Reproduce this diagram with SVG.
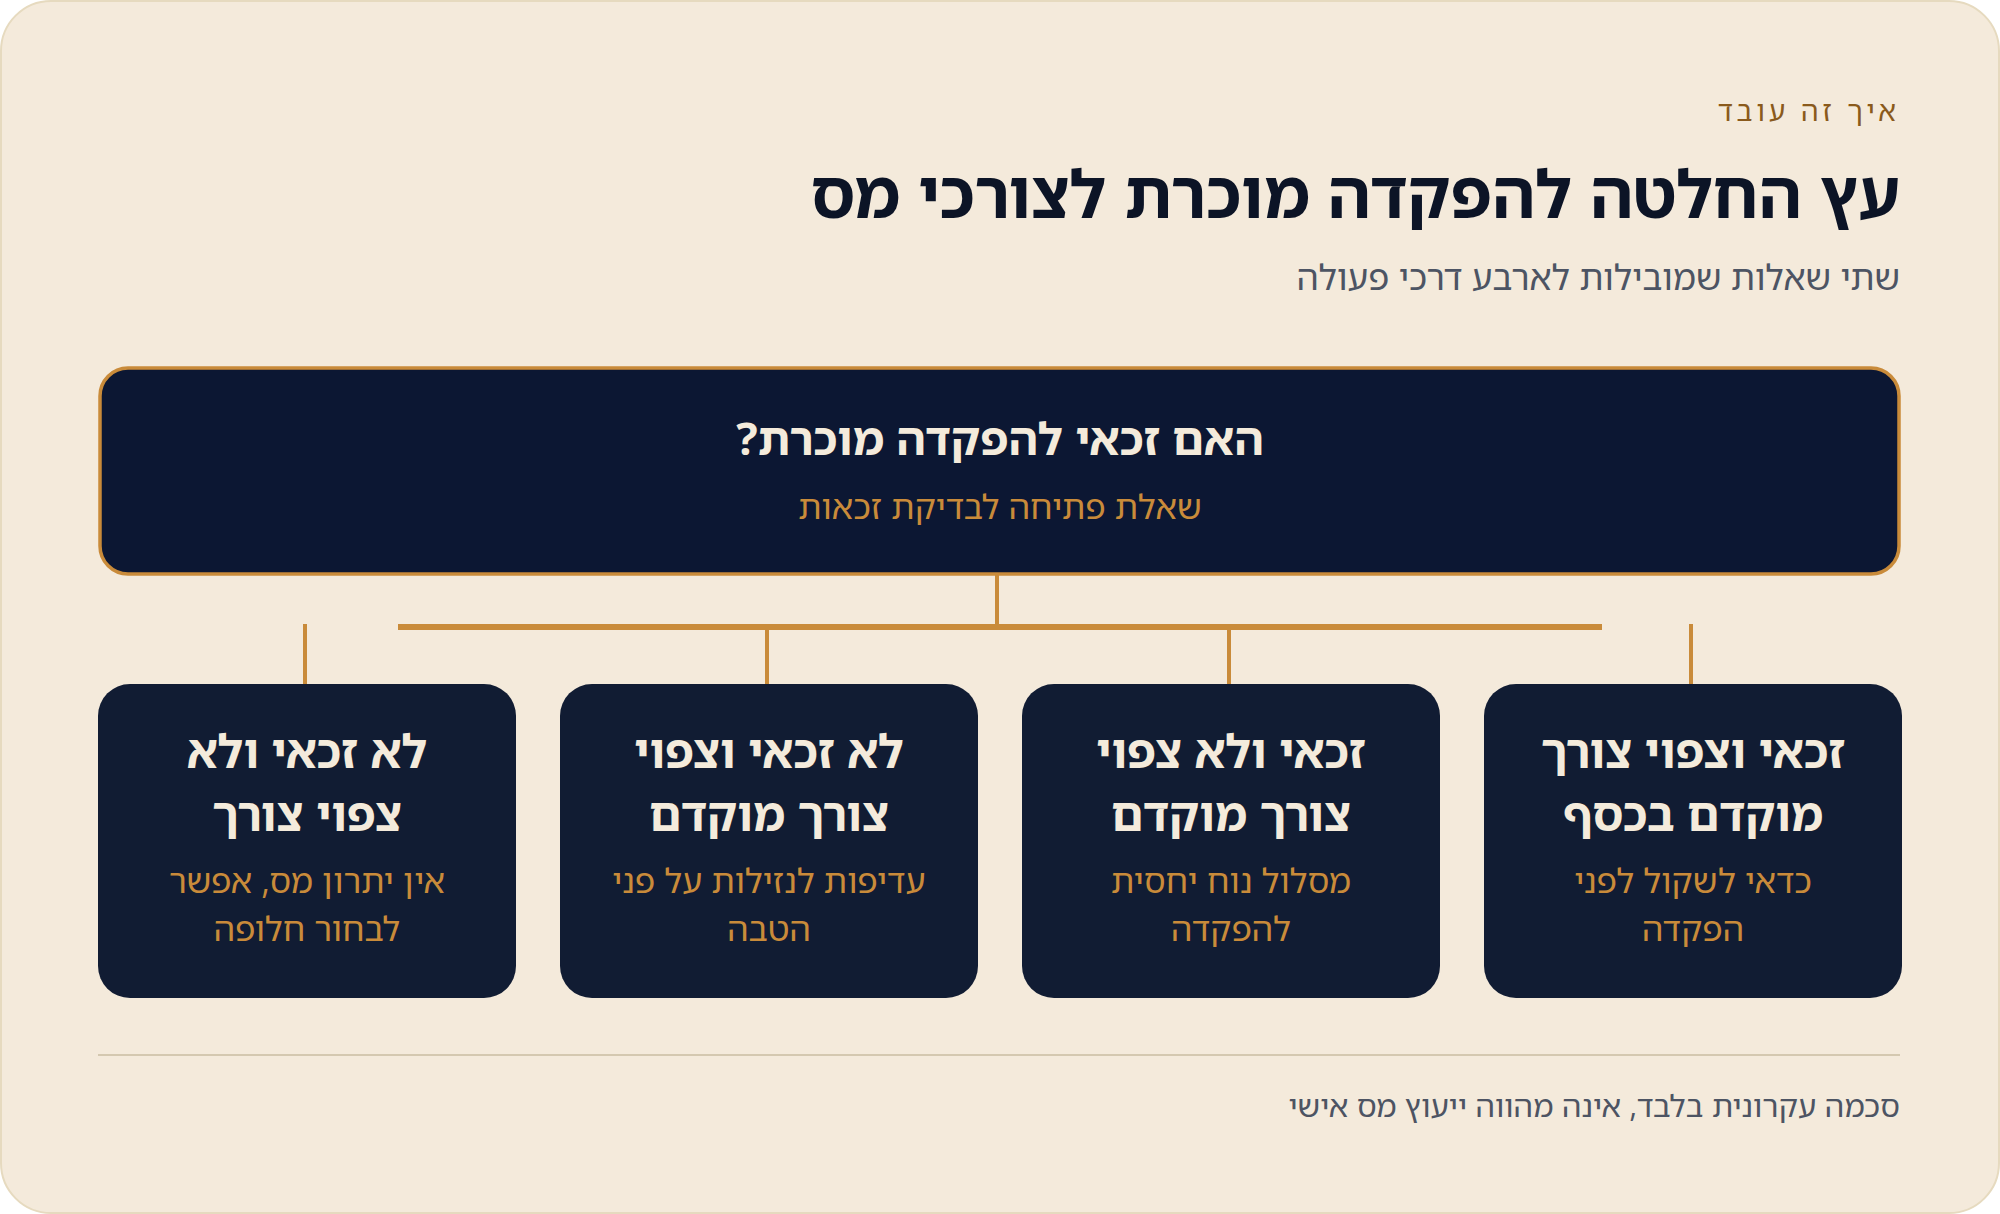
<svg xmlns="http://www.w3.org/2000/svg" width="2000" height="1214" viewBox="0 0 2000 1214">
<style>
text{font-family:"Noto Sans Hebrew","Noto Sans","DejaVu Sans",sans-serif;direction:rtl}
.eyebrow{font-size:28px;fill:#8a5a1c;letter-spacing:4px}
.h1{font-size:66px;font-weight:700;fill:#0c1426}
.sub{font-size:35px;fill:#4d5463}
.qt{font-size:45px;font-weight:700;fill:#f4ebdc}
.qs{font-size:34px;fill:#c98b3a}
.ct{font-size:46px;font-weight:700;fill:#f4ebdc}
.cd{font-size:34px;fill:#c98b3a}
.foot{font-size:31px;fill:#4d5463}
.card{fill:#111c33}
.ln{stroke:#c98b3a;fill:none}
</style>
<rect x="0" y="0" width="2000" height="1214" fill="#ffffff"/>
<rect x="1" y="1" width="1998" height="1212" rx="50" fill="#f4eadb" stroke="#e6dabf" stroke-width="2"/>
<g id="header">
<text class="eyebrow" x="1900" y="121" text-anchor="start">איך זה עובד</text>
<text class="h1" x="1900" y="218" text-anchor="start">עץ החלטה להפקדה מוכרת לצורכי מס</text>
<text class="sub" x="1900" y="290" text-anchor="start">שתי שאלות שמובילות לארבע דרכי פעולה</text>
</g>
<g id="connectors">
<line class="ln" x1="997" y1="575" x2="997" y2="627" stroke-width="4"/>
<line class="ln" x1="398" y1="627" x2="1602" y2="627" stroke-width="6"/>
<line class="ln" x1="305" y1="624" x2="305" y2="685" stroke-width="4"/>
<line class="ln" x1="767" y1="630" x2="767" y2="685" stroke-width="4"/>
<line class="ln" x1="1229" y1="630" x2="1229" y2="685" stroke-width="4"/>
<line class="ln" x1="1691" y1="624" x2="1691" y2="685" stroke-width="4"/>
</g>
<g id="root">
<rect x="100" y="368" width="1799" height="206" rx="28" fill="#0c1733" stroke="#c98b3a" stroke-width="3.5"/>
<text class="qt" x="1000" y="455" text-anchor="middle">האם זכאי להפקדה מוכרת?</text>
<text class="qs" x="1000" y="519" text-anchor="middle">שאלת פתיחה לבדיקת זכאות</text>
</g>
<g id="card4">
<rect class="card" x="98" y="684" width="418" height="314" rx="32"/>
<text class="ct" x="307" y="768" text-anchor="middle">לא זכאי ולא</text>
<text class="ct" x="307" y="831" text-anchor="middle">צפוי צורך</text>
<text class="cd" x="307" y="893" text-anchor="middle">אין יתרון מס, אפשר</text>
<text class="cd" x="307" y="941" text-anchor="middle">לבחור חלופה</text>
</g>
<g id="card3">
<rect class="card" x="560" y="684" width="418" height="314" rx="32"/>
<text class="ct" x="769" y="768" text-anchor="middle">לא זכאי וצפוי</text>
<text class="ct" x="769" y="831" text-anchor="middle">צורך מוקדם</text>
<text class="cd" x="769" y="893" text-anchor="middle">עדיפות לנזילות על פני</text>
<text class="cd" x="769" y="941" text-anchor="middle">הטבה</text>
</g>
<g id="card2">
<rect class="card" x="1022" y="684" width="418" height="314" rx="32"/>
<text class="ct" x="1231" y="768" text-anchor="middle">זכאי ולא צפוי</text>
<text class="ct" x="1231" y="831" text-anchor="middle">צורך מוקדם</text>
<text class="cd" x="1231" y="893" text-anchor="middle">מסלול נוח יחסית</text>
<text class="cd" x="1231" y="941" text-anchor="middle">להפקדה</text>
</g>
<g id="card1">
<rect class="card" x="1484" y="684" width="418" height="314" rx="32"/>
<text class="ct" x="1693" y="768" text-anchor="middle">זכאי וצפוי צורך</text>
<text class="ct" x="1693" y="831" text-anchor="middle">מוקדם בכסף</text>
<text class="cd" x="1693" y="893" text-anchor="middle">כדאי לשקול לפני</text>
<text class="cd" x="1693" y="941" text-anchor="middle">הפקדה</text>
</g>
<g id="footer">
<line x1="98" y1="1055" x2="1900" y2="1055" stroke="#d4c8b0" stroke-width="2"/>
<text class="foot" x="1900" y="1117" text-anchor="start">סכמה עקרונית בלבד, אינה מהווה ייעוץ מס אישי</text>
</g>
</svg>
